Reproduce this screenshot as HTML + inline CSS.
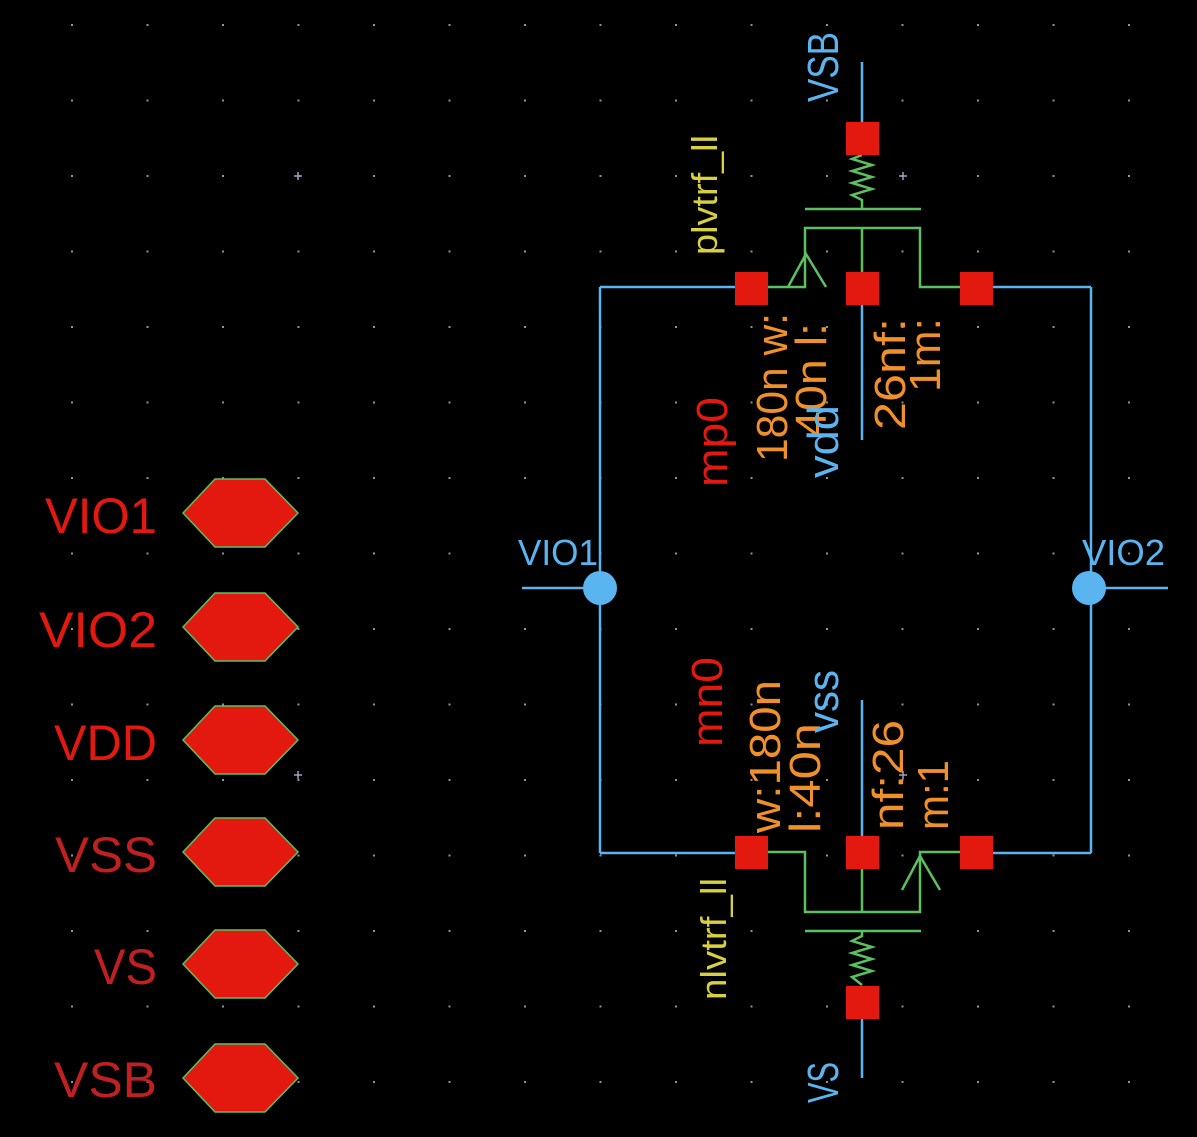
<!DOCTYPE html>
<html><head><meta charset="utf-8"><style>
html,body{margin:0;padding:0;background:#000;}
svg{display:block;}
text{font-family:"Liberation Sans",sans-serif;}
</style></head><body>
<svg width="1197" height="1137" viewBox="0 0 1197 1137" xmlns="http://www.w3.org/2000/svg">
<rect width="1197" height="1137" fill="#000"/>
<defs>
<pattern id="g" x="71" y="24" width="75.5" height="75.5" patternUnits="userSpaceOnUse">
<rect x="0" y="0" width="2" height="2" fill="#9090a0"/>
</pattern>
</defs>
<rect x="60" y="15" width="1137" height="1122" fill="url(#g)"/>
<g stroke="#a0a0c0" stroke-width="1.5">
<path d="M294 176h8M298 172v8M899 176h8M903 172v8M294 775h8M298 771v8M899 775h8M903 771v8"/>
</g>

<g fill="#e3190f" stroke="#5cc060" stroke-width="1.5">
<polygon points="215,479 265,479 298,513 265,547 215,547 183,513"/>
<polygon points="215,593 265,593 298,627 265,661 215,661 183,627"/>
<polygon points="215,706 265,706 298,740 265,774 215,774 183,740"/>
<polygon points="215,818 265,818 298,852 265,886 215,886 183,852"/>
<polygon points="215,930 265,930 298,964 265,998 215,998 183,964"/>
<polygon points="215,1044 265,1044 298,1078 265,1112 215,1112 183,1078"/>
</g>
<g font-size="50" text-anchor="end">
<text x="157" y="533" fill="#e3190f" textLength="112" lengthAdjust="spacingAndGlyphs">VIO1</text>
<text x="157" y="647" fill="#e3190f" textLength="118" lengthAdjust="spacingAndGlyphs">VIO2</text>
<text x="157" y="760" fill="#e3190f" textLength="103" lengthAdjust="spacingAndGlyphs">VDD</text>
<text x="157" y="872" fill="#c02020" textLength="102" lengthAdjust="spacingAndGlyphs">VSS</text>
<text x="157" y="984" fill="#c02020" textLength="63" lengthAdjust="spacingAndGlyphs">VS</text>
<text x="157" y="1097" fill="#c02020" textLength="103" lengthAdjust="spacingAndGlyphs">VSB</text>
</g>

<g stroke="#5ab4f0" stroke-width="2.5" fill="none">
<path d="M600 287V853M1091 287V853M600 287H735M993 287H1091M600 853H735M993 853H1091"/>
<path d="M522 588H600M1091 588H1168"/>
<path d="M862 62V122M862 304V440M862 700V836M862 1019V1078"/>
</g>
<circle cx="600" cy="588" r="17" fill="#5ab4f0"/>
<circle cx="1089" cy="588" r="17" fill="#5ab4f0"/>
<text x="518" y="565" font-size="36" fill="#5ab4f0" textLength="80" lengthAdjust="spacingAndGlyphs">VIO1</text>
<text x="1082" y="565" font-size="36" fill="#5ab4f0" textLength="83" lengthAdjust="spacingAndGlyphs">VIO2</text>

<g stroke="#5cc060" stroke-width="2.5" fill="none">
<path d="M768 287H805V228H920V287H960M862 228V272M805 209H921"/>
<path d="M788 287L806 254L826 287"/>
<path d="M862 155L852 159L872 165L852 171L872 177L852 183L872 189L852 195L862 200V209"/>
<path d="M768 852H805V912H920V852H960M862 869V912M805 931H921"/>
<path d="M902 890L920 856L940 890"/>
<path d="M862 931V936L852 941L872 947L852 953L872 959L852 965L872 971L852 977L862 985"/>
</g>

<g fill="#e3190f">
<rect x="735" y="272" width="33" height="33"/>
<rect x="846" y="272" width="33" height="33"/>
<rect x="960" y="272" width="33" height="33"/>
<rect x="846" y="122" width="33" height="33"/>
<rect x="735" y="836" width="33" height="33"/>
<rect x="846" y="836" width="33" height="33"/>
<rect x="960" y="836" width="33" height="33"/>
<rect x="846" y="986" width="33" height="33"/>
</g>

<g font-size="44">
<text transform="translate(838,102) rotate(-90)" fill="#5ab4f0" textLength="70" lengthAdjust="spacingAndGlyphs">VSB</text>
<text transform="translate(717,255) rotate(-90)" fill="#d8d040" font-size="36" textLength="120" lengthAdjust="spacingAndGlyphs">plvtrf_ll</text>
<text transform="translate(727,487) rotate(-90)" fill="#e3190f" textLength="90" lengthAdjust="spacingAndGlyphs">mp0</text>
<text transform="translate(787,462) rotate(-90)" fill="#f0902a" textLength="149" lengthAdjust="spacingAndGlyphs">180n w:</text>
<text transform="translate(826,437) rotate(-90)" fill="#f0902a" textLength="114" lengthAdjust="spacingAndGlyphs">40n l:</text>
<text transform="translate(838,478) rotate(-90)" fill="#5ab4f0" textLength="73" lengthAdjust="spacingAndGlyphs">vdd</text>
<text transform="translate(905,430) rotate(-90)" fill="#f0902a" textLength="112" lengthAdjust="spacingAndGlyphs">26nf:</text>
<text transform="translate(940,392) rotate(-90)" fill="#f0902a" textLength="74" lengthAdjust="spacingAndGlyphs">1m:</text>

<text transform="translate(722,747) rotate(-90)" fill="#e3190f" textLength="90" lengthAdjust="spacingAndGlyphs">mn0</text>
<text transform="translate(780,833) rotate(-90)" fill="#f0902a" textLength="153" lengthAdjust="spacingAndGlyphs">w:180n</text>
<text transform="translate(820,833) rotate(-90)" fill="#f0902a" textLength="110" lengthAdjust="spacingAndGlyphs">l:40n</text>
<text transform="translate(838,733) rotate(-90)" fill="#5ab4f0" textLength="63" lengthAdjust="spacingAndGlyphs">vss</text>
<text transform="translate(903,830) rotate(-90)" fill="#f0902a" textLength="110" lengthAdjust="spacingAndGlyphs">nf:26</text>
<text transform="translate(948,830) rotate(-90)" fill="#f0902a" textLength="70" lengthAdjust="spacingAndGlyphs">m:1</text>
<text transform="translate(726,1000) rotate(-90)" fill="#d8d040" font-size="36" textLength="122" lengthAdjust="spacingAndGlyphs">nlvtrf_ll</text>
<text transform="translate(838,1103) rotate(-90)" fill="#5ab4f0" textLength="41" lengthAdjust="spacingAndGlyphs">VS</text>
</g>
</svg>
</body></html>
